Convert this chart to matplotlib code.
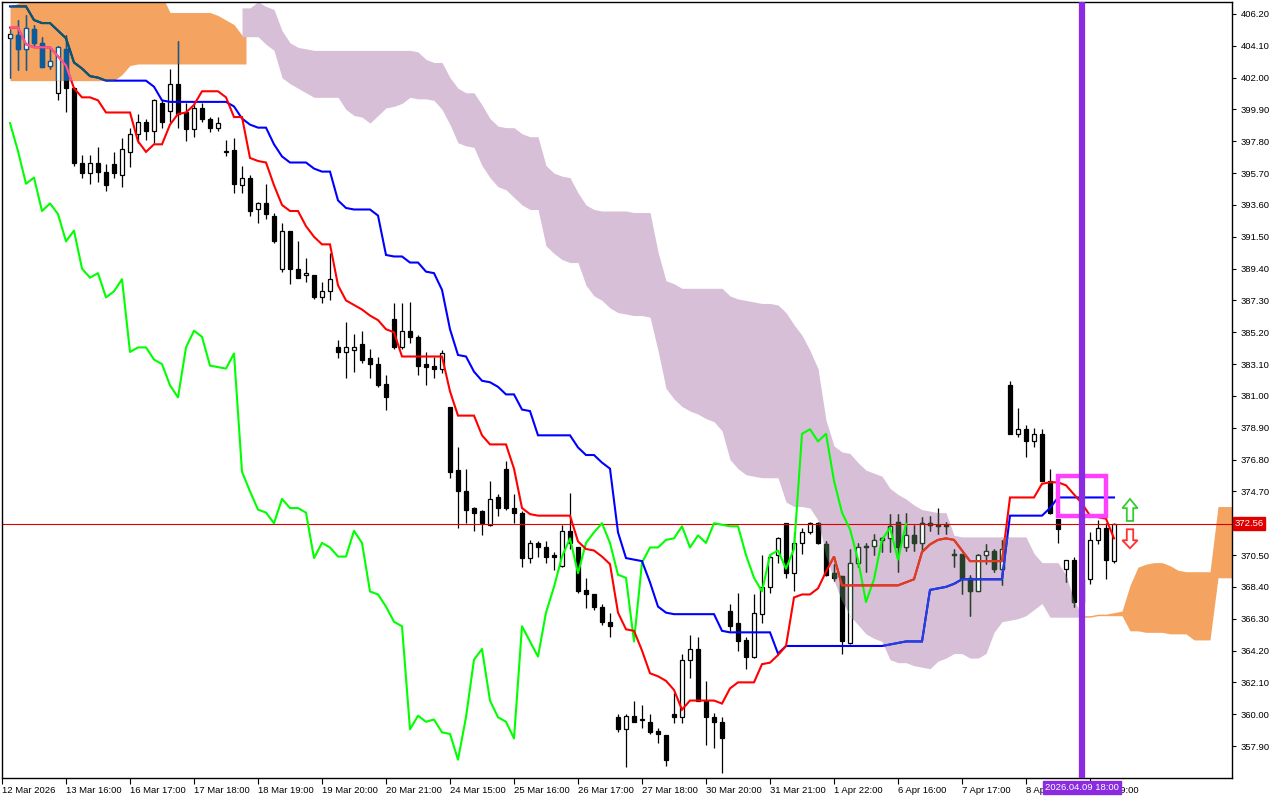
import numpy as np
import matplotlib
matplotlib.use("Agg")
import matplotlib.pyplot as plt
from matplotlib.path import Path
from matplotlib.patches import Rectangle, Polygon
import matplotlib.transforms as mtransforms

plt.rcParams['font.family'] = ['Liberation Sans', 'DejaVu Sans']

# ---------------- data ----------------
opens = [404.6,404.8,403.9,405.2,404.3,402.8,401.0,403.9,401.3,396.4,395.7,396.4,395.8,396.3,395.6,397.1,398.3,399.1,398.5,400.3,
         399.8,401.6,399.7,398.6,400.0,399.3,398.7,397.1,397.2,394.9,395.4,393.3,393.7,392.9,389.4,391.9,389.4,389.0,389.0,387.5,
         387.9,384.2,383.9,384.0,384.4,383.5,383.1,381.8,386.1,384.2,385.3,384.9,383.1,383.0,382.8,380.3,376.1,374.7,373.6,373.4,
         372.5,374.3,376.2,373.6,373.3,370.3,371.3,371.0,370.5,369.8,372.1,371.0,368.2,367.9,367.1,366.1,359.8,359.0,359.9,359.6,
         359.5,358.9,358.6,360.0,359.8,363.6,364.3,360.9,359.8,359.5,366.8,366.0,364.9,363.8,366.6,368.4,370.5,372.6,369.3,371.3,
         372.0,372.6,371.2,369.3,369.1,364.7,370.0,371.1,371.1,371.5,371.6,372.7,371.0,371.8,371.3,372.6,372.5,372.5,370.5,370.6,
         369.0,368.1,370.5,370.8,369.6,381.7,378.5,378.8,378.0,378.5,375.4,372.9,369.6,370.2,367.4,368.9,371.5,372.3,370.1]
highs = [405.2,405.8,406.1,405.5,404.7,404.0,404.1,404.8,401.4,396.9,396.9,397.4,396.3,397.1,398.0,398.7,399.6,399.3,400.6,400.5,
         402.6,404.4,400.3,400.3,400.3,399.4,399.4,397.9,398.0,396.2,395.6,393.8,395.0,393.1,392.4,391.9,391.2,390.1,389.0,388.5,
         390.4,384.7,385.9,385.1,385.3,384.1,383.6,382.4,387.1,387.1,387.2,385.0,383.9,383.6,384.0,380.3,377.6,376.2,373.7,373.5,
         375.4,374.5,376.7,374.5,373.4,371.5,371.4,371.4,370.7,372.5,374.6,371.0,369.0,367.9,367.3,366.7,360.0,360.0,360.9,360.6,
         360.0,359.1,358.6,361.4,364.0,365.2,365.1,362.2,360.1,359.8,367.3,368.0,365.1,367.9,370.5,370.6,371.7,372.6,372.0,372.3,
         372.7,372.7,371.4,369.9,369.1,370.9,371.3,371.3,371.9,371.7,373.2,373.2,373.3,372.5,373.0,373.1,373.6,372.7,370.9,370.6,
         369.2,370.6,371.2,370.9,371.5,382.0,380.2,379.1,378.9,378.8,376.2,372.9,370.2,370.4,369.5,372.0,372.8,372.6,372.6]
lows = [402.0,402.5,402.5,404.1,402.7,402.6,400.5,399.7,396.2,395.4,395.0,395.1,394.5,395.4,394.8,396.1,397.7,397.9,397.7,398.7,
        399.1,398.7,397.8,398.1,399.1,398.4,398.5,396.8,394.4,394.4,392.9,392.4,392.7,391.1,389.2,388.4,388.8,388.5,387.4,387.1,
        387.3,383.5,382.2,382.6,383.2,382.2,381.6,380.1,384.1,384.1,384.5,382.4,381.7,382.2,382.5,375.6,372.3,372.6,372.1,371.8,
        372.4,373.1,373.5,372.6,369.7,370.0,370.4,370.0,369.5,369.7,370.9,368.0,367.0,366.9,365.9,365.1,358.8,356.5,359.5,359.1,
        358.7,358.1,356.6,359.4,359.4,362.4,360.9,358.0,357.8,356.1,365.5,364.2,363.0,363.7,366.0,368.0,370.0,369.0,368.1,370.6,
        371.9,371.2,369.1,368.8,364.0,364.6,369.7,369.4,370.5,370.7,370.7,369.4,370.8,370.8,370.8,372.1,371.9,371.9,369.7,367.9,
        366.5,368.1,369.9,369.4,368.5,378.5,378.3,377.0,377.6,375.4,373.2,371.3,368.7,367.1,366.9,368.6,371.2,368.9,370.0]
closes = [404.9,403.9,405.3,404.3,402.7,403.1,404.0,401.3,396.4,395.7,396.4,395.8,394.9,395.7,397.3,398.3,399.1,398.5,400.5,399.1,
          401.6,399.6,398.6,400.0,399.3,398.7,399.0,397.15,395.0,395.4,393.2,393.7,393.0,391.2,391.9,389.4,388.8,389.1,387.5,387.9,
          388.7,383.9,384.2,384.2,383.4,383.1,381.7,380.9,384.2,385.3,384.9,383.0,382.9,382.8,383.8,376.0,374.7,373.5,373.3,372.6,
          374.2,373.6,373.6,373.3,370.3,371.3,371.0,370.4,370.4,372.1,371.3,368.1,367.9,367.1,366.1,365.8,359.0,359.9,359.5,359.65,
          358.8,358.7,357.0,359.8,363.6,364.3,360.9,359.8,359.5,358.4,365.8,364.8,363.8,366.7,368.4,370.4,371.6,369.3,371.3,372.0,
          372.6,371.3,369.2,369.0,364.8,370.0,371.0,371.0,371.5,371.6,372.4,371.0,371.8,371.3,372.6,372.5,372.4,372.4,370.5,369.0,
          368.1,370.5,370.8,369.6,370.9,378.5,378.8,378.0,378.5,375.4,373.3,372.2,370.2,367.4,368.9,371.5,372.3,370.2,372.56]

tenkan = [405.3,405.3,404.2,404.0,404.0,404.0,403.4,402.8,401.3,400.7,400.7,400.5,399.7,399.7,399.7,399.7,397.8,397.1,397.6,397.6,
          398.9,399.6,399.7,400.2,401.1,401.1,401.1,400.7,399.4,399.4,396.7,396.5,396.4,394.9,393.6,393.2,393.2,392.2,391.5,391.0,
          391.0,388.3,387.3,387.0,386.7,386.3,386.0,385.4,385.2,383.6,383.6,383.6,383.6,383.6,383.6,381.3,379.7,379.7,379.7,378.4,
          377.8,377.8,377.8,376.2,373.6,373.2,373.1,373.1,373.1,373.1,373.1,371.4,370.9,370.8,370.4,369.9,366.7,365.6,365.5,364.2,
          362.7,362.5,362.2,361.6,360.3,360.9,360.9,360.9,360.9,360.7,361.7,362.1,362.1,362.1,363.3,363.4,363.9,364.5,367.7,367.9,
          367.9,368.3,369.4,370.4,368.5,368.5,368.5,368.5,368.5,368.5,368.5,368.5,368.7,368.9,370.7,371.2,371.5,371.6,371.5,370.8,
          370.1,370.1,370.1,370.1,370.1,374.3,374.3,374.3,374.3,375.2,375.3,375.3,375.1,374.5,373.9,373.1,373.0,372.9,371.6]
kijun = [406.7,406.7,406.7,405.8,405.6,405.6,405.1,404.6,403.0,402.6,402.1,402.0,401.8,401.8,401.8,401.8,401.8,401.8,401.4,400.5,
         400.4,400.4,400.4,400.4,400.4,400.4,400.4,400.4,400.1,399.3,398.9,398.7,398.7,397.6,396.8,396.4,396.4,396.4,396.0,395.8,
         395.8,393.9,393.4,393.3,393.3,393.3,392.9,390.3,390.2,390.2,389.8,389.8,389.2,389.1,388.0,385.4,383.7,383.6,382.6,382.0,
         381.9,381.6,381.1,381.1,380.1,380.0,378.4,378.4,378.4,378.4,378.4,377.6,377.1,377.1,376.6,376.2,372.0,370.3,370.2,370.1,
         368.7,367.1,366.7,366.6,366.6,366.6,366.6,366.6,366.6,365.5,365.4,365.4,365.4,365.4,365.4,365.4,364.0,364.5,364.5,364.5,
         364.5,364.5,364.5,364.5,364.5,364.5,364.5,364.5,364.5,364.5,364.6,364.7,364.8,364.8,364.8,368.2,368.3,368.4,368.6,368.9,
         368.9,368.9,368.9,368.9,368.9,373.1,373.1,373.1,373.1,373.1,373.6,374.3,374.3,374.3,374.3,374.3,374.3,374.3,374.3]

kumo_upper = [406.7,406.9] + [407.4]*18 + [406.3]*6 + [406.1,405.8,405.5,404.8] + \
    [406.6,407.0,406.7,406.5,405.1,404.3,404.0,403.9] + [403.8]*13 + \
    [403.7,403.2,403.0,403.0,402.0,401.3,401.0,401.0,400.2,399.3,398.8,398.7,398.7,398.3,398.1,398.1,396.2,395.7,395.5,395.4,
     394.4,393.6,393.3,393.2,393.2,393.2,393.2,393.1,393.1,393.1,390.5,388.6,388.4] + [388.1]*6 + \
    [387.6,387.4,387.3,387.2,387.1,387.1,387.0,386.5,385.7,385.0,384.0,382.8,379.4,377.7,377.3,377.2,376.6,376.1,375.9,375.7,
     374.9,374.5,374.2,373.8,373.5,373.4,373.3,373.3,371.8] + [371.7]*9 + \
    [370.6,370.0,370.0,370.0,369.2,367.5,366.5,
     366.5,366.6,366.6,366.7,366.8,368.5,369.7,369.9,370.0,370.0,369.8,369.5,369.4,369.4,369.4,369.4,373.7,373.7,373.7]
kumo_lower = [401.8]*14 + [402.2,402.8] + [402.9]*14 + \
    [404.7,404.7,404.2,403.8,402.0,401.6,401.3,401.0,400.7,400.7,400.7,400.7,399.9,399.5,399.4,399.0,399.5,400.0,400.1,400.3,
     400.7,400.6,400.6,400.5,399.9,398.9,397.7,397.5,397.4,396.2,395.4,394.8,394.6,394.1,393.6,393.3,393.3,390.9,390.4,390.0,
     389.8,389.8,388.3,387.6,387.3,386.8,386.5,386.4,386.3,386.3,386.2,384.0,381.5,380.8,380.3,380.0,379.8,379.5,379.3,378.7,
     376.8,376.2,375.8,375.7,375.6,375.6,375.6,374.0,373.7,373.7,373.6,372.8,370.5,368.8,367.5,366.5,365.9,365.3,365.0,364.8,
     363.6,363.4,363.4,363.2,363.1,363.0,363.5,363.7,364.0,364.0,363.7,363.7,364.0,365.4,366.1,366.2,366.3,366.5,366.9,367.3,
     366.4,366.4,366.4,366.4,366.4,
     366.4,366.5,366.5,366.5,366.5,365.5,365.5,365.4,365.4,365.4,365.3,365.3,365.3,364.9,364.9,364.9,369.0,369.0,369.0]
bull_end = 29        # last bar of the first bullish (orange) cloud
bear_end = 134       # last bar of the bearish (purple) cloud

yticks = [406.20,404.10,402.00,399.90,397.80,395.70,393.60,391.50,389.40,387.30,385.20,383.10,381.00,
          378.90,376.80,374.70,370.50,368.40,366.30,364.20,362.10,360.00,357.90]
xtick_labels = ["12 Mar 2026","13 Mar 16:00","16 Mar 17:00","17 Mar 18:00","18 Mar 19:00","19 Mar 20:00",
                "20 Mar 21:00","24 Mar 15:00","25 Mar 16:00","26 Mar 17:00","27 Mar 18:00","30 Mar 20:00",
                "31 Mar 21:00","1 Apr 22:00","6 Apr 16:00","7 Apr 17:00","8 Apr 18:00","9 Apr 19:00"]
current_price = 372.56
vline_bar = 134
vline_label = "2026.04.09 18:00"

# ---------------- figure ----------------
W, H = 1280, 800
fig = plt.figure(figsize=(W/100, H/100), dpi=100)
ax = fig.add_axes([2/W, 22/H, 1230/W, 776/H])
ax.set_facecolor('white')
n = len(closes)
x = np.arange(n)
ax.set_xlim(-1, 152.75)
ax.set_ylim(355.79, 406.99)

ORANGE = '#F4A460'
PURPLE = '#D8BFD8'
up = np.array(kumo_upper); lo = np.array(kumo_lower)
xk = np.arange(len(up))

# cloud segments
xa = np.append(xk[:bull_end+1], bull_end + 0.5)
fa = ax.fill_between(xa, np.append(lo[:bull_end+1], lo[bull_end]), np.append(up[:bull_end+1], up[bull_end]),
                     color=ORANGE, lw=0, zorder=1)
xb = np.insert(xk[bull_end+1:bear_end+1], 0, bull_end + 0.5)
fb = ax.fill_between(xb, np.insert(lo[bull_end+1:bear_end+1], 0, lo[bull_end+1]),
                     np.insert(up[bull_end+1:bear_end+1], 0, up[bull_end+1]), color=PURPLE, lw=0, zorder=1)
fc = ax.fill_between(xk[bear_end:], lo[bear_end:], up[bear_end:], color=ORANGE, lw=0, zorder=1)

orange_path = Path.make_compound_path(*(list(fa.get_paths()) + list(fc.get_paths())))
purple_path = Path.make_compound_path(*fb.get_paths())

o = np.array(opens); h = np.array(highs); l = np.array(lows); c = np.array(closes)
bull = c >= o

def candles(dark, clip=None, z=2):
    arts = []
    arts.append(ax.vlines(x, l, h, color=dark, lw=0.9, zorder=z))
    bot = np.minimum(o, c); hgt = np.maximum(np.abs(c - o), 0.06)
    arts.append(ax.bar(x[bull], hgt[bull], bottom=bot[bull], width=0.6, facecolor='white',
                       edgecolor=dark, lw=0.9, zorder=z + 0.01))
    arts.append(ax.bar(x[~bull], hgt[~bull], bottom=bot[~bull], width=0.6, facecolor=dark,
                       edgecolor=dark, lw=0.9, zorder=z + 0.01))
    if clip is not None:
        for a in arts:
            items = a.patches if hasattr(a, 'patches') else [a]
            for it in items:
                it.set_clip_path(clip, ax.transData)

candles('black')
candles('#0B5B9F', orange_path, 2.1)
candles('#27402A', purple_path, 2.1)

# price line
ax.axhline(current_price, color='#E00000', lw=0.8, zorder=2.5)

# chikou (close plotted 26 bars back)
ax.plot(x[26:] - 26, c[26:], color='#00FF00', lw=1.5, zorder=3)

def line(vals, col, z=3, clip=None):
    ln, = ax.plot(x, vals, color=col, lw=1.5, zorder=z, solid_joinstyle='miter')
    if clip is not None:
        ln.set_clip_path(clip, ax.transData)

line(kijun, '#0000FF')
line(tenkan, '#FF0000')
line(kijun, '#0B5B60', 3.1, orange_path)
line(tenkan, '#F45B9F', 3.1, orange_path)
line(kijun, '#2740D8', 3.1, purple_path)
line(tenkan, '#D84027', 3.1, purple_path)

# marker box and arrows
ax.add_patch(Rectangle((131.05, 373.05), 6.0, 2.65, fill=False, edgecolor='#FF40FF', lw=3.2, zorder=4))
ax.axvline(vline_bar, color='#8A2BE2', lw=4.5, zorder=5)

def arrow(xc, ytip, ybase, col):
    hw, sw = 0.95, 0.4
    yh = ytip + (ybase - ytip) * 0.42
    pts = [(xc, ytip), (xc + hw, yh), (xc + sw, yh), (xc + sw, ybase), (xc - sw, ybase), (xc - sw, yh), (xc - hw, yh)]
    ax.add_patch(Polygon(pts, closed=True, facecolor='white', edgecolor=col, lw=1.3, zorder=5))

arrow(140.0, 374.2, 372.75, '#33CC33')
arrow(140.0, 370.95, 372.2, '#FF3030')

# axes styling
for s in ax.spines.values():
    s.set_color('black'); s.set_linewidth(1.0)
ax.yaxis.tick_right()
ax.set_yticks(yticks)
ax.set_yticklabels([f"{v:.2f}" for v in yticks])
ax.tick_params(axis='y', length=3, width=0.8, pad=3, labelsize=6.8, colors='black')
xt = [-1 + 8 * k for k in range(len(xtick_labels))]
ax.set_xticks(xt)
ax.set_xticklabels(xtick_labels)
ax.tick_params(axis='x', length=4, width=0.8, pad=2, labelsize=6.8)
for t in ax.get_xticklabels():
    t.set_ha('left')

ax.text(1.002, current_price, f"{current_price:.2f}", transform=mtransforms.blended_transform_factory(ax.transAxes, ax.transData),
        ha='left', va='center', fontsize=6.8, color='white', zorder=10, clip_on=False,
        bbox=dict(boxstyle='square,pad=0.2', facecolor='#E00000', edgecolor='#E00000'))
ax.text(vline_bar, -0.006, vline_label, transform=mtransforms.blended_transform_factory(ax.transData, ax.transAxes),
        ha='center', va='top', fontsize=6.8, color='white', zorder=10, clip_on=False,
        bbox=dict(boxstyle='square,pad=0.2', facecolor='#8A2BE2', edgecolor='#8A2BE2'))

fig.savefig('out.png', dpi=100, facecolor='white')
